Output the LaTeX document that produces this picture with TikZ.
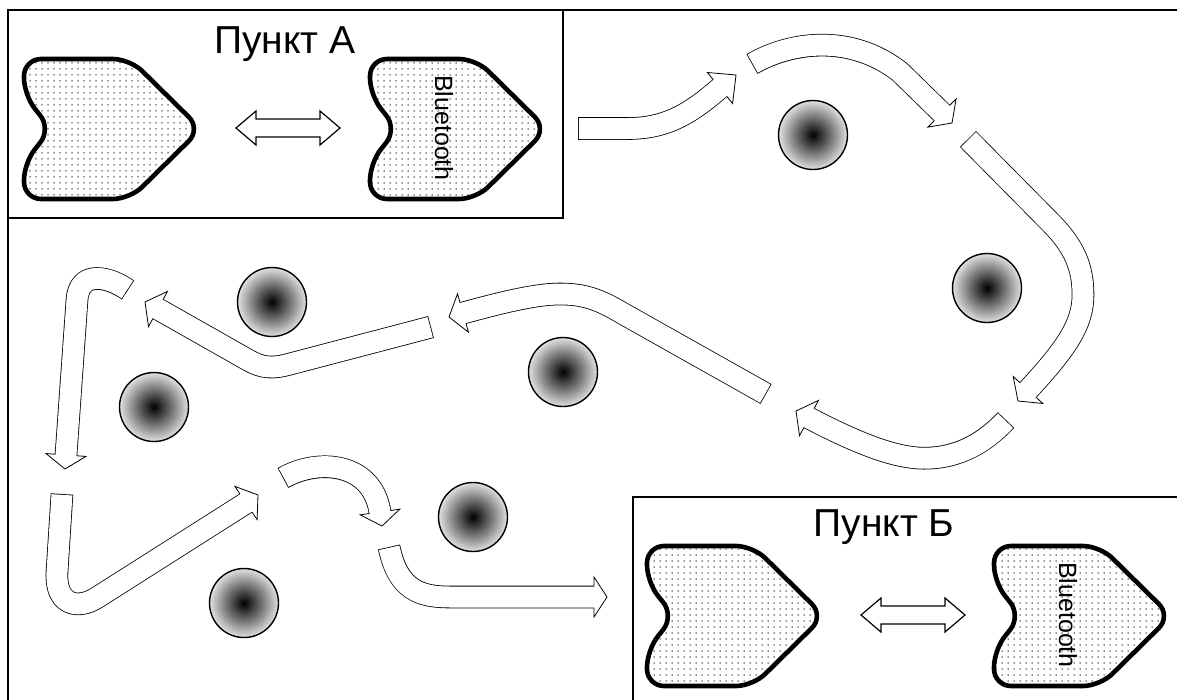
\documentclass[tikz,border=0pt]{standalone}
\usepackage{fontspec}
\setmainfont{Liberation Sans}
\usetikzlibrary{patterns,calc}
\pgfdeclarepatternformonly{mydots}{\pgfpoint{-1pt}{-1pt}}{\pgfpoint{1pt}{1pt}}{\pgfpoint{6pt}{6pt}}{\pgfpathcircle{\pgfpointorigin}{0.75pt}\pgfusepath{fill}}
\tikzset{
  frameline/.style={line width=2pt, draw=black},
  robot/.pic={\draw[line width=4.6pt, rounded corners=17pt, pattern=mydots, pattern color=black!85]
     (2,2) -- (108,2) -- (179,72) -- (108,142) -- (2,142) -- (2,106) -- (29,72) -- (2,38) -- cycle;},
  dblarrow/.pic={\draw[line width=1.2pt, line join=miter, fill=white]
     (-52,0) -- (-32,-17) -- (-32,-9) -- (32,-9) -- (32,-17) -- (52,0) -- (32,17) -- (32,9) -- (-32,9) -- (-32,17) -- cycle;},
  ball/.style={circle, draw, line width=1.4pt, minimum size=69pt, inner sep=0pt, inner color=black, outer color=black!12},
  fatout/.style={line width=22.6pt, black, line join=round},
  fatin/.style={line width=21pt, white, line join=round, shorten <=0.8pt},
  fathead/.style={fill=white, draw=black, line width=0.8pt, line join=miter},
  title/.style={font=\fontsize{39}{41}\selectfont, anchor=base, inner sep=0pt},
  bt/.style={font=\fontsize{25}{27}\selectfont, rotate=-90, inner sep=0pt}
}
\newcommand\fatarr[3]{%
  \draw[fatout] #1;
  \filldraw[fathead] ($#2!20pt!90:#3$) -- #3 -- ($#2!20pt!-90:#3$) -- cycle;
  \draw[fatin] #1 -- ($#2!1.5pt!#3$);
}
\begin{document}
\begin{tikzpicture}[x=1pt,y=-1pt]
\useasboundingbox (0,0) rectangle (1177,699);
\clip (0,0) rectangle (1177,699);
\fill[white] (0,0) rectangle (1177,699);
% frame and boxes
\draw[frameline] (1190,10) -- (8,10) -- (8,710);
\draw[frameline] (8,10) rectangle (563,218);
\draw[frameline] (633,710) -- (633,497) -- (1190,497);
% point A
\node[title] (titleA) at (285,53) {Пункт А};
\pic at (22,57) {robot};
\pic at (368,57) {robot};
\pic at (288,128) {dblarrow};
\node[bt] (btA) at (444,128) {Bluetooth};
% point B
\node[title] (titleB) at (884,536) {Пункт Б};
\pic at (645,544) {robot};
\pic at (992,544) {robot};
\pic at (913,615) {dblarrow};
\node[bt] (btB) at (1068,615) {Bluetooth};
% balls
\node[ball] (b1) at (813,135) {};
\node[ball] (b2) at (987,288) {};
\node[ball] (b3) at (272,302) {};
\node[ball] (b4) at (154,407) {};
\node[ball] (b5) at (563,372) {};
\node[ball] (b6) at (473,517) {};
\node[ball] (b7) at (244,603) {};
% fat arrows
\fatarr{(578,128.5) -- (628,128.5) .. controls (668,128.5) and (692,112) .. (720,88)}{(720,88)}{(736,75)}
\fatarr{(752,64) .. controls (790,42) and (850,33) .. (900,72) -- (942,113)}{(942,113)}{(952,123)}
\fatarr{(968,139) -- (1050,222) .. controls (1075,247) and (1083,268) .. (1083,295) .. controls (1083,325) and (1065,350) .. (1028,390)}{(1028,390)}{(1018,401)}
\fatarr{(1006,420) .. controls (980,448) and (950,460) .. (918,458) .. controls (890,456) and (855,442) .. (809,418)}{(809,418)}{(796,411)}
\fatarr{(766,394) -- (622,313) .. controls (600,300) and (585,294) .. (560,294) .. controls (535,294) and (500,303) .. (463,313)}{(463,313)}{(449,317)}
\fatarr{(431,327) -- (290,364) .. controls (272,369) and (262,368) .. (248,360) -- (158,309)}{(158,309)}{(145,302)}
\fatarr{(128,290) .. controls (108,276) and (79,270) .. (77,300) -- (66,455)}{(66,455)}{(65,469)}
\fatarr{(62,494) -- (57,572) .. controls (55,602) and (75,612) .. (98,597) -- (246,503)}{(246,503)}{(258,495)}
\fatarr{(283,478) .. controls (318,458) and (372,462) .. (380,512)}{(380,512)}{(382,526)}
\fatarr{(389,547) .. controls (398,590) and (420,597) .. (450,597) -- (594,597)}{(594,597)}{(607,597)}
\end{tikzpicture}
\end{document}
